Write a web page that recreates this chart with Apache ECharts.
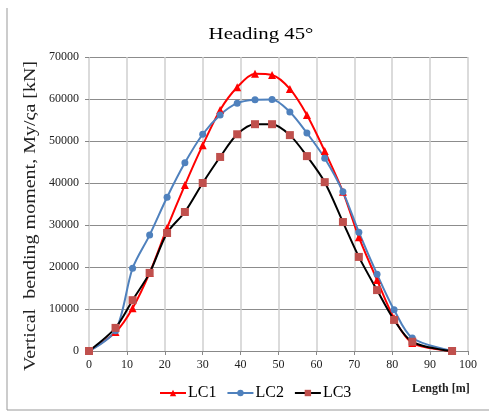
<!DOCTYPE html>
<html>
<head>
<meta charset="utf-8">
<script src="https://cdn.jsdelivr.net/npm/echarts@6/dist/echarts.min.js"></script>
<style>
  html, body { margin: 0; padding: 0; background: #fff; }
  #chart { width: 489px; height: 412px; }
</style>
</head>
<body>
<div id="chart"></div>
<script>
  // stations along the hull [m]
  var lengths = [0, 7, 11.5, 16, 20.6, 25.3, 30, 34.6, 39.1, 43.8, 48.3, 53, 57.5, 62.2, 67, 71.2, 76, 80.5, 85.3, 95.8];
  // vertical bending moment [kN]
  var lc1 = [0, 4500, 10200, 18600, 29300, 39500, 49000, 57400, 62800, 66000, 65700, 62400, 56200, 47600, 37900, 27100, 16900, 7800, 1900, 0];
  var lc2 = [0, 4800, 19700, 27600, 36600, 44800, 51600, 56200, 59000, 59800, 59900, 56900, 51900, 45900, 37900, 28300, 18300, 9800, 3100, 0];
  var lc3 = [0, 5500, 12100, 18600, 28100, 33100, 40000, 46200, 51600, 54000, 54000, 51400, 46400, 40200, 30700, 22400, 14500, 7400, 2200, 0];

  var pairs = function (ys) {
    return lengths.map(function (x, i) { return [x, ys[i]]; });
  };

  var myChart = echarts.init(document.getElementById('chart'));

  var serif = '"Liberation Serif", "DejaVu Serif", serif';

  var option = {
    animation: false,
    legend: {
      bottom: 6,
      left: 154,
      itemWidth: 26,
      itemHeight: 8,
      itemGap: 10,
      textStyle: { fontFamily: serif, fontSize: 16, color: '#000', padding: [0, 0, 0, -3] },
      data: ['LC1', 'LC2', 'LC3']
    },
    grid: { left: 89, right: 21, top: 57, bottom: 61 },
    xAxis: {
      type: 'value',
      min: 0,
      max: 100,
      interval: 10,
      axisLine: { show: true, lineStyle: { color: '#888' } },
      axisTick: { show: true, length: 4, lineStyle: { color: '#888' } },
      axisLabel: { fontFamily: serif, fontSize: 12, color: '#222', margin: 8 },
      splitLine: { show: true, lineStyle: { color: '#cfcfcf', width: 1.5 } }
    },
    yAxis: {
      type: 'value',
      min: 0,
      max: 70000,
      interval: 10000,
      axisLine: { show: false },
      axisTick: { show: true, length: 4, lineStyle: { color: '#888' } },
      axisLabel: {
        fontFamily: serif, fontSize: 12, color: '#222', margin: 10,
        formatter: function (v) { return String(v); }
      },
      splitLine: { show: true, lineStyle: { color: '#8c8c8c' } }
    },
    graphic: [
      { type: 'line', shape: { x1: 7, y1: 8, x2: 7, y2: 410 }, style: { stroke: '#999', lineWidth: 1 } },
      { type: 'line', shape: { x1: 7, y1: 410, x2: 489, y2: 410 }, style: { stroke: '#999', lineWidth: 1 } },
      {
        type: 'text', x: 261, y: 35, scaleX: 1.3,
        style: {
          text: 'Heading 45°', font: '16px "Liberation Serif", serif', fill: '#000',
          textAlign: 'center', textVerticalAlign: 'middle'
        }
      },
      {
        type: 'text', x: 31, y: 216, rotation: Math.PI / 2, scaleX: 1.25,
        style: {
          text: 'Vertical  bending moment, My/ςa [kN]', font: '16px "Liberation Serif", serif', fill: '#222',
          textAlign: 'center', textVerticalAlign: 'middle'
        }
      },
      {
        type: 'text', left: 412, top: 383,
        style: { text: 'Length [m]', font: 'bold 12px "Liberation Serif", serif', fill: '#222' }
      }
    ],
    series: [
      {
        name: 'LC1', type: 'line', smooth: 0.3, data: pairs(lc1),
        symbol: 'triangle', symbolSize: 8,
        lineStyle: { color: '#ff0000', width: 2 },
        itemStyle: { color: '#ff0000' }
      },
      {
        name: 'LC2', type: 'line', smooth: 0.3, data: pairs(lc2),
        symbol: 'circle', symbolSize: 7,
        lineStyle: { color: '#4f81bd', width: 2 },
        itemStyle: { color: '#4f81bd' }
      },
      {
        name: 'LC3', type: 'line', smooth: 0.3, data: pairs(lc3),
        symbol: 'rect', symbolSize: 8,
        lineStyle: { color: '#000', width: 2 },
        itemStyle: { color: '#c0504d' }
      }
    ]
  };

  myChart.setOption(option);
</script>
</body>
</html>
